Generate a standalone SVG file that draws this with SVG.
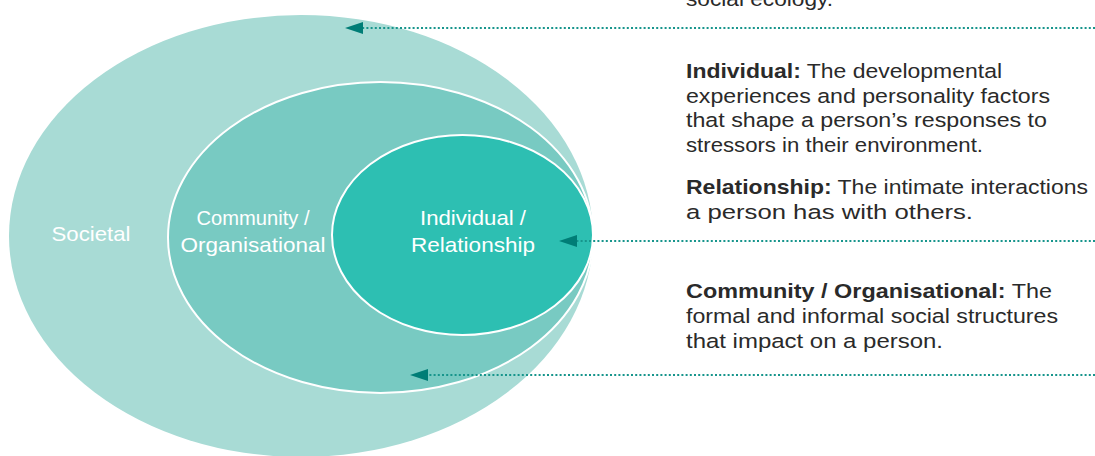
<svg xmlns="http://www.w3.org/2000/svg" width="1095" height="456" viewBox="0 0 1095 456">
<defs>
<style>
.lbl{font-family:"Liberation Sans",Arial,sans-serif;font-size:21px;fill:#ffffff;text-anchor:middle}
.desc{font-family:"Liberation Sans",Arial,sans-serif;font-size:20.5px;fill:#2a2a2a}
.b{font-weight:bold}
.conn{stroke:#17958c;stroke-width:2;stroke-dasharray:2 2.2;fill:none}
</style>
<marker id="ah" viewBox="0 0 18 12" refX="0" refY="6" markerWidth="18" markerHeight="12" markerUnits="userSpaceOnUse" orient="auto">
<path d="M18,6 L0,0 L0,12 Z" fill="#007d76"/>
</marker>
</defs>
<rect width="1095" height="456" fill="#ffffff"/>
<g id="societal">
<ellipse cx="301" cy="236" rx="292" ry="221" fill="#a8dbd5"/>
<text class="lbl" x="91" y="241" textLength="79" lengthAdjust="spacingAndGlyphs">Societal</text>
</g>
<g id="community">
<ellipse cx="380.5" cy="237.5" rx="212.5" ry="155.5" fill="#78cac2" stroke="#ffffff" stroke-width="2"/>
<text class="lbl" x="253" y="225" textLength="113" lengthAdjust="spacingAndGlyphs">Community /</text>
<text class="lbl" x="253" y="252" textLength="145" lengthAdjust="spacingAndGlyphs">Organisational</text>
</g>
<g id="individual">
<ellipse cx="462.5" cy="235" rx="130.5" ry="100" fill="#2dbfb2" stroke="#ffffff" stroke-width="2"/>
<text class="lbl" x="473" y="225" textLength="106" lengthAdjust="spacingAndGlyphs">Individual /</text>
<text class="lbl" x="473" y="252" textLength="124" lengthAdjust="spacingAndGlyphs">Relationship</text>
</g>
<g id="connectors">
<line class="conn" x1="1095" y1="28" x2="363" y2="28" marker-end="url(#ah)"/>
<line class="conn" x1="1095" y1="241" x2="577" y2="241" marker-end="url(#ah)"/>
<line class="conn" x1="1095" y1="375" x2="428" y2="375" marker-end="url(#ah)"/>
</g>
<g id="descriptions">
<text class="desc" x="686" y="6" textLength="147" lengthAdjust="spacingAndGlyphs">social ecology.</text>
<text class="desc" x="686" y="78" textLength="316" lengthAdjust="spacingAndGlyphs"><tspan class="b">Individual:</tspan> The developmental</text>
<text class="desc" x="686" y="102.5" textLength="364" lengthAdjust="spacingAndGlyphs">experiences and personality factors</text>
<text class="desc" x="686" y="127" textLength="361" lengthAdjust="spacingAndGlyphs">that shape a person’s responses to</text>
<text class="desc" x="686" y="151.5" textLength="297" lengthAdjust="spacingAndGlyphs">stressors in their environment.</text>
<text class="desc" x="686" y="194" textLength="402" lengthAdjust="spacingAndGlyphs"><tspan class="b">Relationship:</tspan> The intimate interactions</text>
<text class="desc" x="686" y="219" textLength="287" lengthAdjust="spacingAndGlyphs">a person has with others.</text>
<text class="desc" x="686" y="298" textLength="366" lengthAdjust="spacingAndGlyphs"><tspan class="b">Community / Organisational:</tspan> The</text>
<text class="desc" x="686" y="323" textLength="372" lengthAdjust="spacingAndGlyphs">formal and informal social structures</text>
<text class="desc" x="686" y="348" textLength="257" lengthAdjust="spacingAndGlyphs">that impact on a person.</text>
</g>
</svg>
